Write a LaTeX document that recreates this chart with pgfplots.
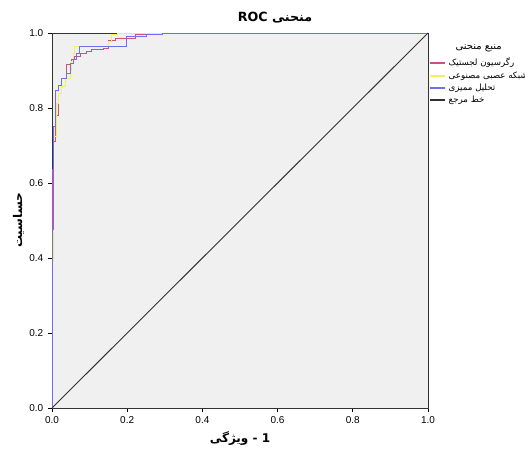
\documentclass[border=0pt]{standalone}
\usepackage{pgfplots}
\pgfplotsset{compat=1.18}
\usepackage{fontspec}
\setmainfont{Liberation Sans}
\newfontfamily\fa[Script=Arabic]{DejaVu Sans}
\TeXXeTstate=1

\definecolor{bgc}{RGB}{240,240,240}
\definecolor{lrc}{RGB}{205,80,130}
\definecolor{nnc}{RGB}{245,240,90}
\definecolor{dac}{RGB}{110,110,245}
\definecolor{refc}{RGB}{50,50,50}

\begin{document}
\begin{tikzpicture}
% page = 525x450 px at 0.75pt per px, axis origin at px (52,408)
\path[use as bounding box] (-39pt,-31.5pt) rectangle (354.75pt,306pt);
\begin{axis}[
  at={(0,0)}, anchor=south west,
  scale only axis, width=282pt, height=281.25pt,
  xmin=0, xmax=1, ymin=0, ymax=1,
  axis background/.style={fill=bgc},
  axis line style={black!80, line width=0.6pt},
  xtick={0,0.2,...,1}, ytick={0,0.2,...,1},
  xtick pos=bottom, ytick pos=left,
  tick align=outside, major tick length=3pt,
  tick style={black, line width=0.5pt},
  /pgf/number format/assume math mode=true,
  /pgf/number format/fixed, /pgf/number format/fixed zerofill,
  /pgf/number format/precision=1,
  ticklabel style={font=\fontsize{7.5}{9}\selectfont},
  xlabel={\fa\bfseries\beginR 1 - ویژگی\endR},
  ylabel={\fa\bfseries\beginR حساسیت\endR},
  label style={font=\fontsize{9}{11}\selectfont},
  xlabel style={yshift=1pt},
  ylabel style={yshift=-3pt},
  legend style={at={(1.0,0.941)}, anchor=north west, draw=none, fill=none,
    font=\fa\fontsize{6.5}{8}\selectfont, row sep=-1.3pt,
    inner xsep=1pt, inner ysep=0pt, cells={anchor=west}},
  legend image code/.code={\draw[#1, line width=1.3pt] (0pt,0pt) -- (11pt,0pt);},
]
\addplot[lrc, line width=0.7pt] coordinates {
(0,0)(0,0.635)(0.003,0.635)(0.003,0.71)(0.008,0.71)(0.008,0.78)(0.017,0.78)
(0.017,0.84)(0.026,0.84)(0.026,0.88)(0.039,0.88)(0.039,0.915)(0.052,0.915)
(0.052,0.93)(0.061,0.93)(0.061,0.937)(0.075,0.937)(0.075,0.946)(0.092,0.946)
(0.092,0.95)(0.106,0.95)(0.106,0.955)(0.137,0.955)(0.137,0.959)(0.150,0.959)
(0.150,0.981)(0.168,0.981)(0.168,0.986)(0.221,0.986)(0.221,0.995)(0.256,0.995)
(0.256,1)(1,1)};
\addlegendentry{\beginR رگرسیون لجستیک\endR}
\addplot[nnc, line width=0.7pt] coordinates {
(0,0)(0,0.39)(0.003,0.39)(0.003,0.723)(0.012,0.723)(0.012,0.813)(0.017,0.813)
(0.017,0.84)(0.026,0.84)(0.026,0.857)(0.035,0.857)(0.035,0.88)(0.048,0.88)
(0.048,0.90)(0.052,0.90)(0.052,0.923)(0.057,0.923)(0.057,0.946)(0.061,0.946)
(0.061,0.964)(0.150,0.964)(0.150,0.977)(0.159,0.977)(0.159,0.995)(0.175,0.995)
(0.175,1)(1,1)};
\addlegendentry{\beginR شبکه عصبی مصنوعی\endR}
\addplot[dac, line width=0.7pt] coordinates {
(0,0)(0,0.475)(0.003,0.475)(0.003,0.75)(0.008,0.75)(0.008,0.848)(0.017,0.848)
(0.017,0.861)(0.026,0.861)(0.026,0.879)(0.039,0.879)(0.039,0.893)(0.048,0.893)
(0.048,0.919)(0.057,0.919)(0.057,0.93)(0.066,0.93)(0.066,0.946)(0.073,0.946)
(0.073,0.963)(0.199,0.963)(0.199,0.99)(0.252,0.99)(0.252,0.995)(0.295,0.995)
(0.295,1)(1,1)};
\addlegendentry{\beginR تحلیل ممیزی\endR}
\addplot[refc, line width=0.7pt] coordinates {(0,0)(1,1)};
\addlegendentry{\beginR خط مرجع\endR}
\end{axis}
\node[font=\fa\bfseries\fontsize{9.5}{11}\selectfont] at (167.25pt,292.5pt) {\beginR منحنی \beginL ROC\endL\endR};
\node[font=\fa\fontsize{7.5}{9}\selectfont] at (320pt,270pt) {\beginR منبع منحنی\endR};
\end{tikzpicture}
\end{document}
